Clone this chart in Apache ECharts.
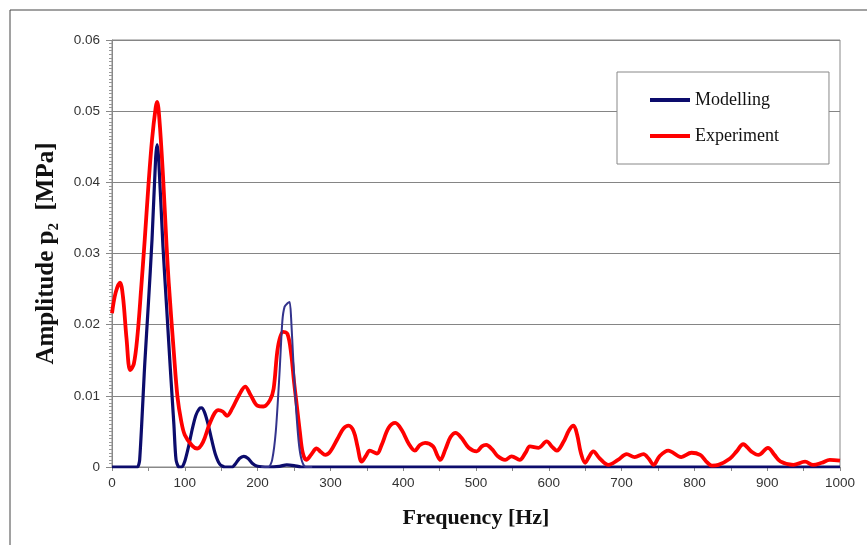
<!DOCTYPE html>
<html>
<head>
<meta charset="utf-8">
<script src="https://cdn.jsdelivr.net/npm/echarts@6/dist/echarts.min.js"></script>
<style>
  html, body { margin: 0; padding: 0; background: #fff; }
  #chart { width: 867px; height: 545px; }
</style>
</head>
<body>
<div id="chart"></div>
<script>
// frequency [Hz], amplitude [MPa]
const modellingFreq = [0, 30, 35, 38, 45, 50, 55, 60, 62, 64, 70, 75, 80, 85, 88, 92, 96, 100, 105, 110, 115, 120, 123, 127, 132, 137, 142, 148, 155, 165, 170, 175, 181, 187, 193, 200, 215, 230, 240, 250, 260, 300, 1000];
const modellingAmp = [0, 0, 0, 0.001, 0.0145, 0.023, 0.032, 0.0435, 0.0453, 0.0435, 0.031, 0.0225, 0.014, 0.006, 0.001, 0, 0, 0.0008, 0.0028, 0.0052, 0.0072, 0.0082, 0.0083, 0.0077, 0.006, 0.0038, 0.0018, 0.0004, 0, 0, 0.0005, 0.0012, 0.0015, 0.0012, 0.0005, 0.0001, 0, 0.0001, 0.0003, 0.0002, 0, 0, 0];

// narrow peak near 240 Hz (drawn as a thinner line in the original)
const peakFreq = [205, 215, 220, 225, 230, 234, 237, 241, 244, 246, 249, 253, 257, 261, 266, 275];
const peakAmp = [0, 0, 0.001, 0.005, 0.013, 0.0205, 0.0225, 0.023, 0.0232, 0.021, 0.015, 0.008, 0.003, 0.0008, 0, 0];

const experimentFreq = [0, 5, 11, 15, 20, 25, 30, 35, 40, 45, 50, 55, 60, 62, 65, 70, 75, 78, 85, 90, 95, 100, 110, 117, 125, 135, 146, 152, 158, 165, 175, 183, 190, 200, 208, 217, 222, 228, 235, 241, 246, 250, 254, 258, 262, 267, 274, 281, 287, 293, 300, 310, 318, 325, 332, 337, 343, 349, 354, 364, 370, 380, 389, 398, 408, 416, 423, 430, 441, 447, 451, 458, 465, 472, 480, 490, 501, 508, 514, 522, 530, 540, 549, 560, 568, 574, 586, 597, 605, 611, 620, 628, 634, 639, 644, 650, 655, 661, 670, 682, 695, 707, 718, 730, 737, 744, 752, 764, 782, 796, 808, 816, 824, 833, 849, 858, 867, 878, 888, 901, 910, 918, 936, 952, 963, 975, 986, 1000];
const experimentAmp = [0.0216, 0.0245, 0.0259, 0.024, 0.018, 0.0136, 0.0145, 0.0185, 0.025, 0.032, 0.0395, 0.046, 0.0505, 0.0513, 0.049, 0.041, 0.031, 0.0258, 0.016, 0.0098, 0.0065, 0.0045, 0.003, 0.0026, 0.0035, 0.0063, 0.008, 0.0078, 0.0072, 0.0082, 0.0102, 0.0113, 0.0102, 0.0086, 0.0085, 0.0094, 0.011, 0.0169, 0.019, 0.0187, 0.016, 0.012, 0.0085, 0.005, 0.002, 0.001, 0.0018, 0.0026, 0.0021, 0.0017, 0.0022, 0.004, 0.0054, 0.0058, 0.005, 0.003, 0.00075, 0.0016, 0.0023, 0.0019, 0.003, 0.0055, 0.0062, 0.0052, 0.0032, 0.0023, 0.0031, 0.0034, 0.0029, 0.0016, 0.001, 0.0025, 0.0042, 0.0048, 0.0041, 0.0027, 0.0022, 0.0029, 0.0031, 0.0025, 0.0015, 0.001, 0.0015, 0.001, 0.002, 0.0029, 0.0027, 0.0036, 0.0028, 0.0023, 0.0035, 0.0052, 0.0058, 0.0045, 0.002, 0.0006, 0.0014, 0.0022, 0.0012, 0.0003, 0.001, 0.0018, 0.0014, 0.0018, 0.0012, 0.0003, 0.0015, 0.0023, 0.0014, 0.002, 0.0017, 0.0008, 0.0002, 0.0003, 0.0012, 0.0022, 0.0032, 0.0022, 0.0017, 0.0027, 0.0017, 0.0008, 0.0003, 0.00075, 0.0003, 0.0006, 0.001, 0.0009];

const xTicks = [0, 100, 200, 300, 400, 500, 600, 700, 800, 900, 1000];
const yTicks = [0, 0.01, 0.02, 0.03, 0.04, 0.05, 0.06];

function pairs(xs, ys) {
  return xs.map((x, i) => [x, ys[i]]);
}

const chart = echarts.init(document.getElementById('chart'));

let option = {
  backgroundColor: '#fff',
  animation: false,
  graphic: [{
    type: 'rect',
    shape: { x: 10, y: 10, width: 1000, height: 1000 },
    style: { fill: 'none', stroke: '#444', lineWidth: 1 },
    silent: true
  }],
  grid: {
    left: 112,
    right: 27,
    top: 40,
    bottom: 78,
    show: true,
    borderColor: '#888',
    borderWidth: 1
  },
  legend: {
    left: 617,
    top: 72,
    orient: 'vertical',
    backgroundColor: '#fff',
    borderColor: '#888',
    borderWidth: 1,
    padding: [19, 50, 19, 33],
    itemGap: 18,
    itemWidth: 40,
    itemHeight: 4,
    icon: 'rect',
    textStyle: { fontFamily: 'Liberation Serif', fontSize: 18, color: '#111' },
    data: ['Modelling', 'Experiment']
  },
  xAxis: {
    type: 'value',
    min: xTicks[0],
    max: xTicks[xTicks.length - 1],
    interval: 100,
    name: 'Frequency [Hz]',
    nameLocation: 'middle',
    nameGap: 40,
    nameTextStyle: { fontFamily: 'Liberation Serif', fontWeight: 'bold', fontSize: 22, color: '#111' },
    axisLine: { lineStyle: { color: '#888' } },
    axisTick: { show: true, length: 4, lineStyle: { color: '#888' } },
    minorTick: { show: true, splitNumber: 2, length: 4, lineStyle: { color: '#888' } },
    splitLine: { show: false },
    axisLabel: {
      margin: 9,
      fontFamily: 'Liberation Sans',
      fontSize: 13.5,
      color: '#333',
      formatter: v => String(v)
    }
  },
  yAxis: {
    type: 'value',
    min: yTicks[0],
    max: yTicks[yTicks.length - 1],
    interval: 0.01,
    name: 'Amplitude p\u2082  [MPa]',
    nameLocation: 'middle',
    nameGap: 53,
    nameTextStyle: { fontFamily: 'Liberation Serif', fontWeight: 'bold', fontSize: 25, color: '#111' },
    axisLine: { show: true, lineStyle: { color: '#888' } },
    axisTick: { show: true, length: 6, lineStyle: { color: '#888' } },
    minorTick: { show: true, splitNumber: 20, length: 3, lineStyle: { color: '#999' } },
    splitLine: { show: true, lineStyle: { color: '#858585', width: 1.2 } },
    axisLabel: {
      margin: 12,
      fontFamily: 'Liberation Sans',
      fontSize: 13.5,
      color: '#333',
      formatter: v => (v === 0 ? '0' : v.toFixed(2))
    }
  },
  series: [
    {
      name: 'Modelling',
      type: 'line',
      data: pairs(modellingFreq, modellingAmp),
      showSymbol: false,
      smooth: 0.25,
      itemStyle: { color: '#0c0c6c' },
      lineStyle: { color: '#0c0c6c', width: 3.2 }
    },
    {
      name: 'Experiment',
      type: 'line',
      data: pairs(experimentFreq, experimentAmp),
      showSymbol: false,
      smooth: 0.35,
      itemStyle: { color: '#ff0000' },
      lineStyle: { color: '#ff0000', width: 3.8 }
    },
    {
      name: 'peak',
      type: 'line',
      data: pairs(peakFreq, peakAmp),
      showSymbol: false,
      smooth: 0.25,
      itemStyle: { color: '#33338c' },
      lineStyle: { color: '#33338c', width: 2 }
    }
  ]
};
chart.setOption(option);
</script>
</body>
</html>
